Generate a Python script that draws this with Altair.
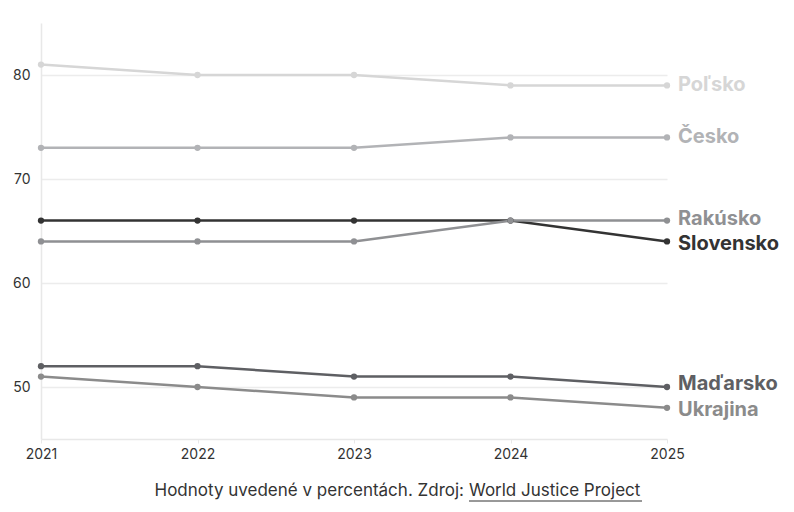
import altair as alt
import pandas as pd

years = [2021, 2022, 2023, 2024, 2025]
countries = ["Poľsko", "Česko", "Rakúsko", "Slovensko", "Maďarsko", "Ukrajina"]
values = {
    "Poľsko":    [81, 80, 80, 79, 79],
    "Česko":     [73, 73, 73, 74, 74],
    "Rakúsko":   [64, 64, 64, 66, 66],
    "Slovensko": [66, 66, 66, 66, 64],
    "Maďarsko":  [52, 52, 51, 51, 50],
    "Ukrajina":  [51, 50, 49, 49, 48],
}
colors = ["#d6d6d6", "#b2b3b6", "#8f9093", "#333333", "#5e5f63", "#8b8b8b"]
label_shift = {"Poľsko": 0, "Česko": 0, "Rakúsko": -2, "Slovensko": 3, "Maďarsko": -3, "Ukrajina": 2}
draw_order = ["Slovensko", "Poľsko", "Česko", "Rakúsko", "Ukrajina", "Maďarsko"]
caption_text = "Hodnoty uvedené v percentách. Zdroj:"
caption_link = "World Justice Project"

rows = []
for c in draw_order:
    for y, v in zip(years, values[c]):
        rows.append({"country": c, "year": y, "value": v})
df = pd.DataFrame(rows)
last = df[df.year == years[-1]].copy()
last["shift"] = last.country.map(label_shift)

FONT = "Inter"
color = alt.Color("country:N", scale=alt.Scale(domain=countries, range=colors), legend=None)

x = alt.X("year:Q", scale=alt.Scale(domain=[2021, 2025], nice=False),
          axis=alt.Axis(values=years, format="d", title=None, grid=False,
                        domainColor="#e8e8e8", domainWidth=1.5, tickColor="#e8e8e8",
                        tickSize=4, labelColor="#333", labelFontSize=14, labelFont=FONT,
                        labelPadding=4, labelFlush=False))
y = alt.Y("value:Q", scale=alt.Scale(domain=[45, 85], nice=False, zero=False),
          axis=alt.Axis(values=[50, 60, 70, 80], title=None, ticks=False,
                        domainColor="#e8e8e8", domainWidth=1.5, gridColor="#ececec",
                        gridWidth=1.5, labelColor="#333", labelFontSize=14, labelFont=FONT,
                        labelPadding=11))

base = alt.Chart(df)
lines = base.mark_line(strokeWidth=2.5).encode(x=x, y=y, color=color, order=alt.Order("year:Q"),
                                                detail="country:N")
pts = base.mark_point(filled=True, size=40, opacity=1).encode(x=x, y=y, color=color)

layers = [lines, pts]
for s in sorted(set(label_shift.values())):
    sub = last[last["shift"] == s]
    layers.append(
        alt.Chart(sub).mark_text(align="left", baseline="middle", dx=11, dy=s,
                                 font=FONT, fontSize=20, fontWeight="bold")
        .encode(x=x, y=y, text="country:N", color=color)
    )

cap_df = pd.DataFrame({"a": [caption_text], "b": [caption_link]})
cap1 = alt.Chart(cap_df).mark_text(align="right", baseline="middle", font=FONT, fontSize=17,
                                   color="#333", dx=-5).encode(
    x=alt.value(428), y=alt.value(468), text="a:N")
cap2 = alt.Chart(cap_df).mark_text(align="left", baseline="middle", font=FONT, fontSize=17,
                                   color="#333").encode(
    x=alt.value(428), y=alt.value(468), text="b:N")
underline = alt.Chart(cap_df).mark_rule(color="#333", strokeWidth=1).encode(
    x=alt.value(428), x2=alt.value(601), y=alt.value(478))
layers += [cap1, cap2, underline]

chart = alt.layer(*layers).properties(
    width=626, height=416,
    padding={"left": 4, "top": 15, "right": 5, "bottom": 0},
).configure_view(stroke=None)

chart.save("out.html", embed_options={"renderer": "svg", "actions": False})
